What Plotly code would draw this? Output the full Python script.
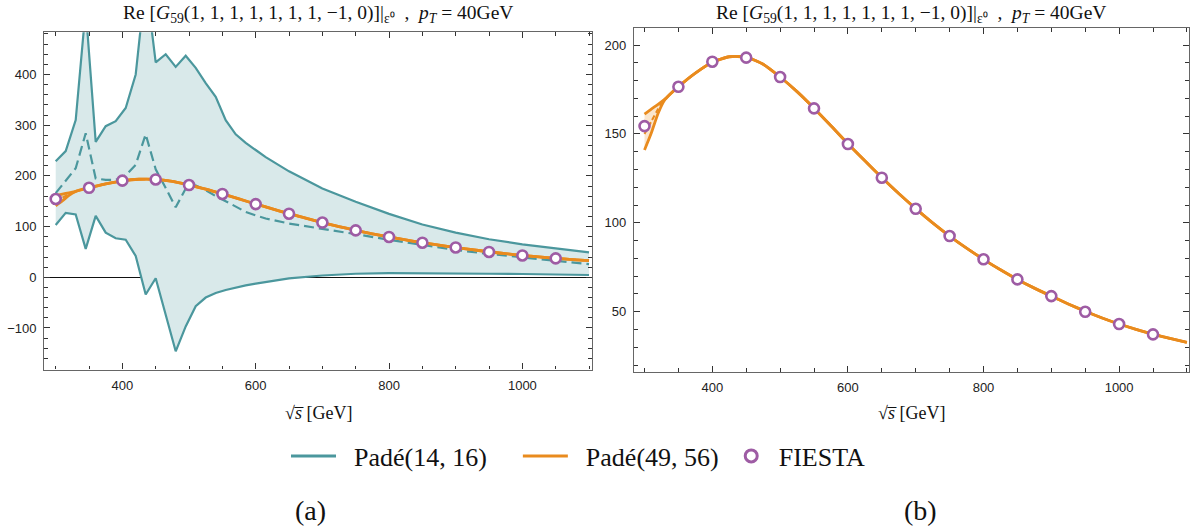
import plotly.graph_objects as go

# ---------------- data ----------------
x_teal = [300, 315, 330, 345, 360, 375, 390, 405, 420, 435, 450, 465, 480, 495, 510, 525,
          540, 555, 570, 585, 600, 615, 650, 700, 750, 800, 850, 900, 950, 1000, 1050, 1100]
teal_upper = [229, 249, 310, 530, 267, 298, 308, 334, 400, 585, 424, 440, 415, 437, 413, 383,
              356, 310, 282, 265, 251, 237, 209, 175, 149, 125, 104, 88, 75, 65, 57, 49]
teal_lower = [103, 127, 124, 56, 121, 88, 77, 74, 42, -34, -2, -74, -146, -97, -57, -40,
              -31, -25, -20, -16, -12.5, -9, -2, 3.5, 7, 8, 8, 8, 7, 6.5, 5.5, 4.5]
teal_center = [166, 190, 215, 284, 195, 192, 192, 201, 222, 282, 213, 176, 138, 175, 181, 172,
               160, 150, 139, 129, 122, 116, 106, 96, 85, 74, 63.5, 54, 46, 39.5, 33, 26]

x_orange = [300, 310, 320, 330, 340, 350, 375, 400, 425, 450, 475, 500, 525, 550, 575, 600,
            625, 650, 675, 700, 725, 750, 775, 800, 825, 850, 875, 900, 925, 950, 975, 1000,
            1025, 1050, 1075, 1100]
orange_upper = [161.2, 164.0, 166.6, 169.6, 173.2, 176.6, 184.2, 190.3, 193.4, 193.2, 189.2, 182.0,
                173.8, 164.5, 154.6, 144.5, 134.9, 125.5, 116.5, 108.0, 100.0, 92.6, 85.8, 79.5,
                73.6, 68.2, 63.3, 58.8, 54.4, 50.3, 46.5, 43.1, 40.1, 37.4, 35.0, 32.8]
orange_lower = [141.0, 150.5, 161.5, 169.2, 173.2, 176.6, 184.2, 190.3, 193.4, 193.2, 189.2, 182.0,
                173.8, 164.5, 154.6, 144.5, 134.9, 125.5, 116.5, 108.0, 100.0, 92.6, 85.8, 79.5,
                73.6, 68.2, 63.3, 58.8, 54.4, 50.3, 46.5, 43.1, 40.1, 37.4, 35.0, 32.8]
orange_center = [150.0, 157.0, 164.0, 169.4, 173.2, 176.6, 184.2, 190.3, 193.4, 193.2, 189.2, 182.0,
                 173.8, 164.5, 154.6, 144.5, 134.9, 125.5, 116.5, 108.0, 100.0, 92.6, 85.8, 79.5,
                 73.6, 68.2, 63.3, 58.8, 54.4, 50.3, 46.5, 43.1, 40.1, 37.4, 35.0, 32.8]

x_fiesta = [300, 350, 400, 450, 500, 550, 600, 650, 700, 750, 800, 850, 900, 950, 1000, 1050]
y_fiesta = [154.4, 176.5, 190.6, 192.9, 182.0, 164.4, 144.3, 125.4, 107.9, 92.6, 79.5, 68.2,
            58.8, 50.0, 43.1, 37.3]

legend_names = ["Padé(14, 16)", "Padé(49, 56)", "FIESTA"]

# ---------------- style ----------------
TEAL = "#4B979D"
TEAL_FILL = "#D9E9EA"
ORANGE = "#E98B1E"
ORANGE_FILL = "rgba(233,139,30,0.22)"
PURPLE = "#9E5CA4"
FRAME = "#666666"
SERIF = "Liberation Serif"
SANS = "Liberation Sans"
NB = "\u00a0"

fig = go.Figure()


def add_panel(xa, ya, with_teal):
    if with_teal:
        fig.add_trace(go.Scatter(x=x_teal, y=teal_lower, mode="lines", xaxis=xa, yaxis=ya,
                                 line=dict(color=TEAL, width=2.2), showlegend=False,
                                 hoverinfo="skip"))
        fig.add_trace(go.Scatter(x=x_teal, y=teal_upper, mode="lines", xaxis=xa, yaxis=ya,
                                 line=dict(color=TEAL, width=2.2), fill="tonexty",
                                 fillcolor=TEAL_FILL, showlegend=False, hoverinfo="skip"))
        fig.add_trace(go.Scatter(x=x_teal, y=teal_center, mode="lines", xaxis=xa, yaxis=ya,
                                 line=dict(color=TEAL, width=2.2, dash="10px,5px"),
                                 showlegend=False, hoverinfo="skip"))
    fig.add_trace(go.Scatter(x=x_orange, y=orange_lower, mode="lines", xaxis=xa, yaxis=ya,
                             line=dict(color=ORANGE, width=2.8, shape="spline", smoothing=0.6),
                             showlegend=False, hoverinfo="skip"))
    fig.add_trace(go.Scatter(x=x_orange, y=orange_upper, mode="lines", xaxis=xa, yaxis=ya,
                             line=dict(color=ORANGE, width=2.8, shape="spline", smoothing=0.6),
                             fill="tonexty", fillcolor=ORANGE_FILL,
                             showlegend=False, hoverinfo="skip"))
    fig.add_trace(go.Scatter(x=x_orange, y=orange_center, mode="lines", xaxis=xa, yaxis=ya,
                             line=dict(color=ORANGE, width=2.0, dash="5px,3px", shape="spline",
                                       smoothing=0.6),
                             showlegend=False, hoverinfo="skip"))
    fig.add_trace(go.Scatter(x=x_fiesta, y=y_fiesta, mode="markers", xaxis=xa, yaxis=ya,
                             marker=dict(symbol="circle", size=10, color="white",
                                         line=dict(color=PURPLE, width=2.6)),
                             name="FIESTA", showlegend=False, hoverinfo="skip"))


add_panel("x", "y", True)
add_panel("x2", "y2", False)

# legend-only entries
fig.add_trace(go.Scatter(x=[None], y=[None], mode="lines", line=dict(color=TEAL, width=3),
                         name=NB * 2 + legend_names[0] + NB * 4, showlegend=True))
fig.add_trace(go.Scatter(x=[None], y=[None], mode="lines", line=dict(color=ORANGE, width=3),
                         name=NB * 2 + legend_names[1], showlegend=True))
fig.add_trace(go.Scatter(x=[None], y=[None], mode="markers",
                         marker=dict(symbol="circle", size=12, color="white",
                                     line=dict(color=PURPLE, width=3)),
                         name=legend_names[2], showlegend=True))

W, H = 1194, 529

axis_common = dict(showgrid=False, showline=True, linecolor=FRAME, linewidth=1.3,
                   mirror="ticks", ticks="inside", ticklen=6, tickwidth=1, tickcolor="#333",
                   tickfont=dict(family=SANS, size=13, color="#222"), zeroline=False,
                   ticklabelstandoff=4)

fig.update_layout(
    width=W, height=H,
    margin=dict(l=0, r=0, t=0, b=0),
    paper_bgcolor="white", plot_bgcolor="white",
    xaxis=dict(domain=[44.3 / W, 591.7 / W], range=[282.9, 1104], tick0=0, dtick=200,
               minor=dict(dtick=50, ticks="inside", ticklen=3.5, tickcolor="#333"),
               anchor="y", **axis_common),
    yaxis=dict(domain=[1 - 369.5 / H, 1 - 32.3 / H], range=[-181.9, 483.2], tick0=0, dtick=100,
               minor=dict(dtick=20, ticks="inside", ticklen=3.5, tickcolor="#333"),
               anchor="x", **{**axis_common, "zeroline": True},
               zerolinecolor="#111", zerolinewidth=1.2),
    xaxis2=dict(domain=[634 / W, 1189 / W], range=[284.5, 1103.1], tick0=0, dtick=200,
                minor=dict(dtick=50, ticks="inside", ticklen=3.5, tickcolor="#333"),
                anchor="y2", **axis_common),
    yaxis2=dict(domain=[1 - 371.7 / H, 1 - 28.3 / H], range=[16.3, 209.4], tick0=0, dtick=50,
                minor=dict(dtick=10, ticks="inside", ticklen=3.5, tickcolor="#333"),
                anchor="x2", **axis_common),
    legend=dict(orientation="h", x=286 / W, xanchor="left", y=1 - 456 / H, yanchor="middle",
                font=dict(family=SERIF, size=26, color="#111"), itemwidth=45,
                traceorder="normal", bgcolor="rgba(0,0,0,0)"),
    showlegend=True,
)

title_txt = ("Re [<i>G</i><sub>59</sub>(1, 1, 1, 1, 1, 1, 1, −1, 0)]|<sub>ε⁰</sub>  ,  "
             "<i>p<sub>T</sub></i> = 40GeV")
xlab = "√<i>s̅</i> [GeV]"

ann = []
for cx, cy in [(318, 14), (911, 14)]:
    ann.append(dict(text=title_txt, x=cx / W, y=1 - cy / H, xref="paper", yref="paper",
                    xanchor="center", yanchor="middle", showarrow=False,
                    font=dict(family=SERIF, size=19.5, color="#111")))
for cx in [318, 911]:
    ann.append(dict(text=xlab, x=cx / W, y=1 - 413 / H, xref="paper", yref="paper",
                    xanchor="center", yanchor="middle", showarrow=False,
                    font=dict(family=SERIF, size=18, color="#111")))
for txt, cx in [("(a)", 310), ("(b)", 920)]:
    ann.append(dict(text=txt, x=cx / W, y=1 - 510 / H, xref="paper", yref="paper",
                    xanchor="center", yanchor="middle", showarrow=False,
                    font=dict(family=SERIF, size=28, color="#111")))
fig.update_layout(annotations=ann)

fig.write_html("out.html")
